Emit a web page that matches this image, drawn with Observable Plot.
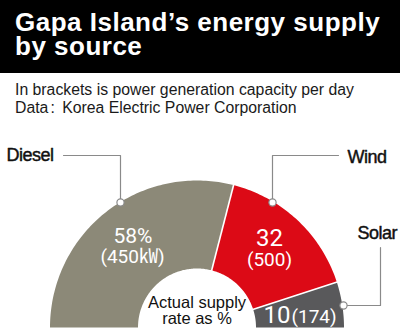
<!DOCTYPE html>
<html><head><meta charset="utf-8">
<script src="https://cdn.jsdelivr.net/npm/d3@7"></script>
<script src="https://cdn.jsdelivr.net/npm/@observablehq/plot@0.6"></script>
<style>
html,body{margin:0;padding:0;width:400px;height:331px;overflow:hidden;background:#fff;}
#head{position:absolute;left:0;top:0;width:400px;height:73px;background:#000;}
#title{position:absolute;left:15px;top:10px;margin:0;color:#fff;font:700 26px/24px "Liberation Sans",Arial,sans-serif;letter-spacing:0.5px;white-space:nowrap;}
#sub{position:absolute;left:15px;top:81px;color:#1a1a1a;font:400 15.8px/18px "Liberation Sans",Arial,sans-serif;white-space:nowrap;}
#chart{position:absolute;left:0;top:125px;}
</style></head><body>
<div id="head"><div id="title">Gapa Island’s energy supply<br>by source</div></div>
<div id="sub">In brackets is power generation capacity per day<br>Data<span style="margin:0 3px 0 2px">:</span> Korea Electric Power Corporation</div>
<div id="chart"></div>
<script>
// ---- data ----
const sources = ["Diesel", "Wind", "Solar"];
const shares = [58, 32, 10];
const capacities = [450, 500, 174];
const shareLabels = ["58%", "32", "10"];
const capacityLabels = ["(450㎾)", "(500)", "(174)"];
const centerLabel = ["Actual supply", "rate as %"];

// ---- style / layout ----
const colors = ["#8c8978", "#dc0a16", "#59595b"];
const W = 400, H = 206;          // svg size
const CX = 196.5, CY = 327, TOP = 125; // page coordinates of donut center / svg top
const R_OUT = 147, R_IN = 59;
const px = x => x - CX;          // page x -> data x
const py = y => CY - y;          // page y -> data y

// slice polygons (half donut: 180deg = total)
const total = d3.sum(shares);
let cum = 0;
const slices = [];
const bounds = [];
sources.forEach((s, i) => {
  const a0 = 180 - 180 * cum / total;
  cum += shares[i];
  const a1 = 180 - 180 * cum / total;
  if (i > 0) bounds.push(a0);
  const steps = Math.max(2, Math.ceil(Math.abs(a0 - a1)));
  for (let k = 0; k <= steps; k++) {
    const a = (a0 + (a1 - a0) * k / steps) * Math.PI / 180;
    slices.push({source: s, x: R_OUT * Math.cos(a), y: R_OUT * Math.sin(a)});
  }
  for (let k = steps; k >= 0; k--) {
    const a = (a0 + (a1 - a0) * k / steps) * Math.PI / 180;
    slices.push({source: s, x: R_IN * Math.cos(a), y: R_IN * Math.sin(a)});
  }
});
const seps = bounds.map(a => {
  const t = a * Math.PI / 180;
  return {x1: (R_IN - 2) * Math.cos(t), y1: (R_IN - 2) * Math.sin(t),
          x2: (R_OUT + 2) * Math.cos(t), y2: (R_OUT + 2) * Math.sin(t)};
});

// labels & leaders (page coords)
const nameLabels = [
  {t: sources[0], x: 6, y: 160},
  {t: sources[1], x: 347, y: 162},
  {t: sources[2], x: 357, y: 238}
];
const leaders = [
  {s: sources[0], pts: [[63,155],[120,155],[120,202]]},
  {s: sources[1], pts: [[338,155],[272,155],[272,202]]},
  {s: sources[2], pts: [[380,247],[380,305],[343,305]]}
];
const leaderPts = leaders.flatMap(l => l.pts.map(p => ({s: l.s, x: px(p[0]), y: py(p[1])})));
const dotPts = leaders.map(l => { const p = l.pts[l.pts.length - 1]; return {x: px(p[0]), y: py(p[1])}; });

const valueText = [
  {t: shareLabels[0], x: 132.5, y: 242, size: 21, anchor: "middle"},
  {t: shareLabels[1], x: 269, y: 245, size: 24, anchor: "middle"},
  {t: shareLabels[2], x: 290, y: 322, size: 24, anchor: "end"}
];
const capText = [
  {t: capacityLabels[0], x: 132, y: 262, size: 19, anchor: "middle"},
  {t: capacityLabels[1], x: 269, y: 265, size: 19, anchor: "middle"},
  {t: capacityLabels[2], x: 291, y: 322, size: 19, anchor: "start"}
];
const centerText = [
  {t: centerLabel[0], x: 196.5, y: 307},
  {t: centerLabel[1], x: 196.5, y: 323}
];

const numFont = "Roboto, 'Noto Sans CJK KR', sans-serif";
const textMarks = (arr) => ["start", "middle", "end"].map(anc => {
  const d = arr.filter(o => o.anchor === anc);
  return d3.groups(d, o => o.size).map(([sz, g]) =>
    Plot.text(g, {x: o => px(o.x), y: o => py(o.y), text: "t", textAnchor: anc,
      lineAnchor: "bottom", fontSize: sz, fill: "#fff", fontFamily: numFont}));
}).flat(2);

const chart = Plot.plot({
  width: W, height: H,
  margin: 0,
  x: {domain: [-CX, W - CX], axis: null},
  y: {domain: [py(TOP + H), py(TOP)], axis: null},
  color: {domain: sources, range: colors},
  style: {background: "transparent", overflow: "visible"},
  marks: [
    Plot.line(slices, {x: "x", y: "y", z: "source", fill: "source", stroke: "none", curve: "linear-closed"}),
    Plot.link(seps, {x1: "x1", y1: "y1", x2: "x2", y2: "y2", stroke: "#fff", strokeWidth: 1.6}),
    Plot.line(leaderPts, {x: "x", y: "y", z: "s", stroke: "#8a8a8a", strokeWidth: 1.2}),
    Plot.dot(dotPts, {x: "x", y: "y", r: 3.6, fill: "#fff", stroke: "#8a8a8a", strokeWidth: 1.2}),
    Plot.text(nameLabels, {x: o => px(o.x), y: o => py(o.y), text: "t", textAnchor: "start",
      lineAnchor: "bottom", fontSize: 18, fill: "#111", stroke: "#111", strokeWidth: 0.45,
      fontFamily: "'Liberation Sans', Arial, sans-serif", className: "outer-label"}),
    ...textMarks(valueText),
    ...textMarks(capText),
    Plot.text(centerText, {x: o => px(o.x), y: o => py(o.y), text: "t", textAnchor: "middle",
      lineAnchor: "bottom", fontSize: 16.5, fill: "#111", fontFamily: "'Liberation Sans', Arial, sans-serif"})
  ]
});
d3.select(chart).selectAll("text").filter(function(){ return sources.includes(this.textContent); }).style("letter-spacing", "-0.5px");
document.getElementById("chart").appendChild(chart);
</script>
</body></html>
